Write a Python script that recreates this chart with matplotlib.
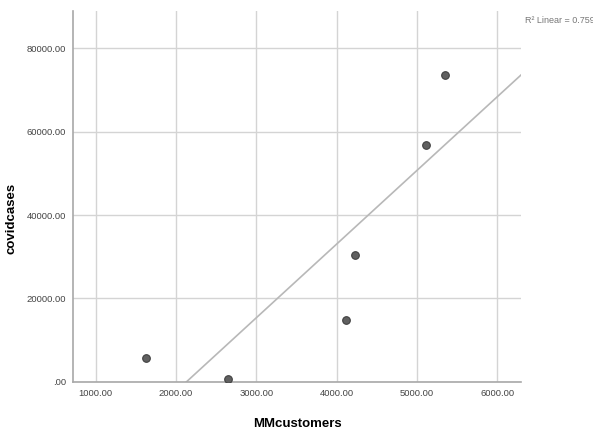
import numpy as np
import matplotlib
matplotlib.use('Agg')
import matplotlib.pyplot as plt

plt.rcParams['font.family'] = ['Liberation Sans', 'DejaVu Sans']

# data
mm_customers = [1630, 2642, 4111, 4235, 5112, 5350]
covid_cases = [5750, 700, 14850, 30400, 56770, 73500]
x_ticks = [1000, 2000, 3000, 4000, 5000, 6000]
y_ticks = [0, 20000, 40000, 60000, 80000]
r2_text = 'R\u00b2 Linear = 0.759'


def fmt(v, pos=None):
    s = f'{v:.2f}'
    return s[1:] if s.startswith('0.') else s


fig = plt.figure(figsize=(5.93, 4.30), dpi=100)
ax = fig.add_axes([0.123, 0.112, 0.756, 0.862])

ax.set_xlim(715, 6300)
ax.set_ylim(0, 88900)

ax.set_xticks(x_ticks)
ax.set_yticks(y_ticks)
ax.xaxis.set_major_formatter(plt.FuncFormatter(fmt))
ax.yaxis.set_major_formatter(plt.FuncFormatter(fmt))
ax.tick_params(length=0, labelsize=6.8, colors='#444444', pad=5)

ax.grid(True, color='#d4d4d4', linewidth=1.0)
ax.set_axisbelow(True)

for s in ['top', 'right']:
    ax.spines[s].set_visible(False)
for s in ['left', 'bottom']:
    ax.spines[s].set_color('#a8a8a8')
    ax.spines[s].set_linewidth(1.2)

# linear fit line
slope, inter = np.polyfit(mm_customers, covid_cases, 1)
xs = np.array([715, 6300])
ax.plot(xs, slope * xs + inter, color='#b8b8b8', linewidth=1.2, zorder=2)

ax.scatter(mm_customers, covid_cases, s=30, color='#606060',
           edgecolors='#404040', linewidths=0.8, zorder=3)

ax.set_xlabel('MMcustomers', fontsize=9.5, fontweight='bold')
ax.set_ylabel('covidcases', fontsize=9.5, fontweight='bold')
ax.xaxis.set_label_coords(0.5, -0.097)
ax.yaxis.set_label_coords(-0.123, 0.44)

fig.text(0.886, 0.953, r2_text, fontsize=6.5, color='#777777', ha='left', va='center')

fig.savefig('out.png', dpi=100)
